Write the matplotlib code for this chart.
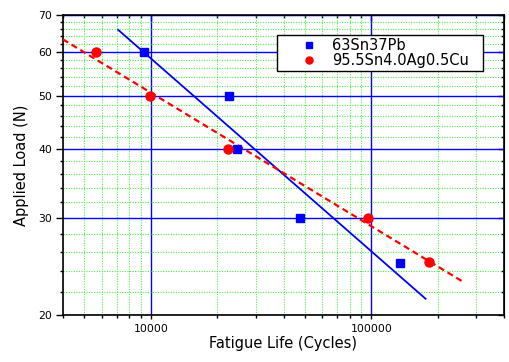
import numpy as np
import matplotlib
matplotlib.use('Agg')
import matplotlib.pyplot as plt
from matplotlib.ticker import FixedLocator, FixedFormatter, LogLocator, NullFormatter

# data
life_snpb = [9300, 22700, 24500, 47500, 135000]
load_snpb = [60, 50, 40, 30, 24.8]
life_sac = [5650, 9950, 22300, 96500, 182000]
load_sac = [60, 50, 40, 30, 25]
labels = ['63Sn37Pb', '95.5Sn4.0Ag0.5Cu']
y_ticks = [20, 30, 40, 50, 60, 70]
y_minor = [v for v in range(22, 70, 2) if v % 10 != 0]
x_ticks = [10000, 100000]


def fit_line(x, y):
    # straight line in log-log, drawn 10% past the data on both ends
    lx = np.log10(x)
    ly = np.log10(y)
    k, b = np.polyfit(lx, ly, 1)
    span = lx.max() - lx.min()
    xs = np.linspace(lx.min() - 0.1 * span, lx.max() + 0.1 * span, 50)
    return 10 ** xs, 10 ** (k * xs + b)


plt.rcParams['font.family'] = 'DejaVu Sans'
fig = plt.figure(figsize=(5.1, 3.62), dpi=100)
ax = fig.add_axes([63 / 510, 1 - 315 / 362, 441 / 510, 300 / 362])
ax.set_xscale('log')
ax.set_yscale('log')
ax.set_xlim(4000, 400000)
ax.set_ylim(20, 70)

fx, fy = fit_line(life_snpb, load_snpb)
ax.plot(fx, fy, color='#0000ff', lw=1.3, zorder=3)
fx, fy = fit_line(life_sac, load_sac)
ax.plot(fx, fy, color='#ff0000', lw=1.6, linestyle=(0, (2.8, 1.8)), zorder=3)

ax.plot(life_snpb, load_snpb, 's', color='#0000ff', ms=5.5, ls='none',
        label=labels[0], zorder=4)
ax.plot(life_sac, load_sac, 'o', color='#ff0000', ms=6.5, ls='none',
        label=labels[1], zorder=4)

ax.yaxis.set_major_locator(FixedLocator(y_ticks))
ax.yaxis.set_major_formatter(FixedFormatter([str(v) for v in y_ticks]))
ax.yaxis.set_minor_locator(FixedLocator(y_minor))
ax.yaxis.set_minor_formatter(NullFormatter())
ax.xaxis.set_major_locator(FixedLocator(x_ticks))
ax.xaxis.set_major_formatter(FixedFormatter([str(v) for v in x_ticks]))
ax.xaxis.set_minor_locator(LogLocator(base=10, subs=np.arange(2, 10)))
ax.xaxis.set_minor_formatter(NullFormatter())

ax.set_axisbelow(True)
ax.grid(True, which='major', color='#0000ff', lw=1.0, ls='-')
ax.grid(True, which='minor', color='#4ded4d', lw=0.8, ls=(0, (1, 1.3)))

for s in ax.spines.values():
    s.set_linewidth(1.2)
ax.tick_params(which='both', direction='out', top=False, right=False,
               width=1.0, labelsize=7.8, colors='black')
ax.tick_params(axis='y', which='major', length=5, pad=3)
ax.tick_params(axis='y', which='minor', length=2.5)
ax.tick_params(axis='x', which='major', length=3, pad=3.5)
ax.tick_params(axis='x', which='minor', length=2)

# mirrored ticks on top and right point inward
sec_x = ax.secondary_xaxis('top')
sec_x.set_xticks(x_ticks)
sec_x.xaxis.set_minor_locator(LogLocator(base=10, subs=np.arange(2, 10)))
sec_x.tick_params(which='both', direction='in', labeltop=False, width=1.0)
sec_x.tick_params(which='major', length=4)
sec_x.tick_params(which='minor', length=2.5)
sec_y = ax.secondary_yaxis('right')
sec_y.set_yticks(y_ticks)
sec_y.yaxis.set_minor_locator(FixedLocator(y_minor))
sec_y.yaxis.set_minor_formatter(NullFormatter())
sec_y.tick_params(which='both', direction='in', labelright=False, width=1.0)
sec_y.tick_params(which='major', length=4)
sec_y.tick_params(which='minor', length=2.5)

ax.set_xlabel('Fatigue Life (Cycles)', fontsize=10.5, va='baseline')
ax.set_ylabel('Applied Load (N)', fontsize=10.5)
ax.xaxis.set_label_coords(0.5, -0.11)
ax.yaxis.set_label_coords(-0.077, 0.5)

leg = ax.legend(loc='upper left', bbox_to_anchor=(0.4846, 0.5, 0.4685, 0.4333),
                mode='expand', fontsize=10.5, frameon=True, fancybox=False,
                framealpha=1, edgecolor='black', handlelength=4.0,
                handletextpad=-0.4, borderpad=0.22, labelspacing=0.0,
                borderaxespad=0, markerscale=0.78)
leg.get_frame().set_linewidth(1.0)

fig.savefig('out.png', dpi=100)
